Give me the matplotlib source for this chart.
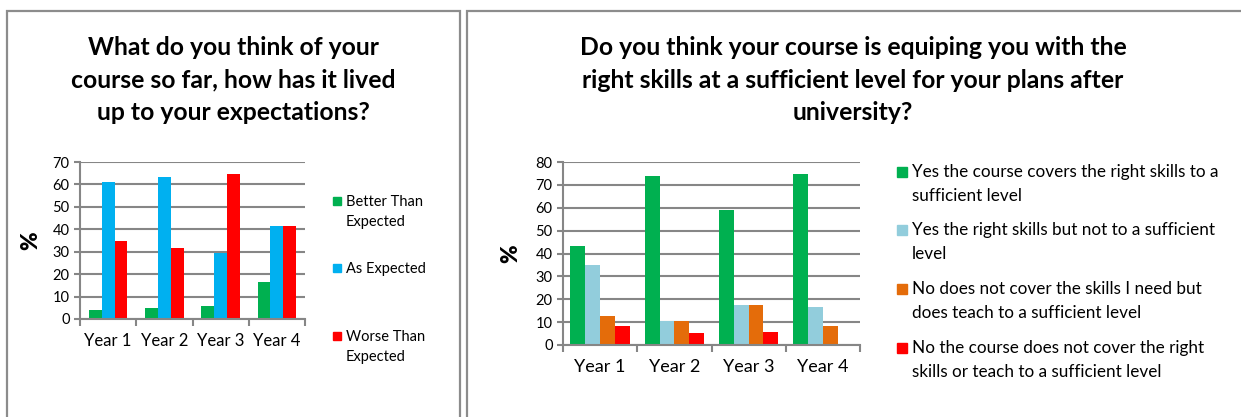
import numpy as np
import matplotlib.pyplot as plt
from matplotlib.patches import Rectangle

plt.rcParams['font.family'] = ['Lato', 'DejaVu Sans']

years = ['Year 1', 'Year 2', 'Year 3', 'Year 4']

# left chart: expectations
exp_labels = ['Better Than\nExpected', 'As Expected', 'Worse Than\nExpected']
better = [4.2, 5.1, 5.9, 16.5]
as_expected = [61.0, 63.2, 29.3, 41.6]
worse = [34.8, 31.7, 64.8, 41.6]
exp_colors = ['#00B050', '#00B0F0', '#FF0000']

# right chart: skills
skill_labels = ['Yes the course covers the right skills to a\nsufficient level',
                'Yes the right skills but not to a sufficient\nlevel',
                'No does not cover the skills I need but\ndoes teach to a sufficient level',
                'No the course does not cover the right\nskills or teach to a sufficient level']
yes_right = [43.3, 73.7, 58.8, 74.9]
yes_not_suff = [34.8, 10.5, 17.5, 16.6]
no_but_teach = [12.8, 10.5, 17.5, 8.3]
no_neither = [8.4, 5.2, 5.8, 0]
skill_colors = ['#00B050', '#92CDDC', '#E46C0A', '#FF0000']

W, H = 1241, 417
fig = plt.figure(figsize=(W / 100, H / 100), dpi=100)

def fx(px):
    return px / W

def fy(py):
    return 1 - py / H

# panel borders
border = '#8c8c8c'
fig.patches.append(Rectangle((fx(7), fy(430)), fx(453), fy(11) - fy(430),
                             transform=fig.transFigure, fill=False,
                             edgecolor=border, lw=1.6))
fig.patches.append(Rectangle((fx(467), fy(430)), fx(800), fy(11) - fy(430),
                             transform=fig.transFigure, fill=False,
                             edgecolor=border, lw=1.6))


def style_axes(ax, ymax, step, ncat):
    ax.set_ylim(0, ymax)
    ax.set_yticks(np.arange(0, ymax + 1, step))
    ax.set_xlim(-0.5, ncat - 0.5)
    ax.yaxis.grid(True, color='#868686', lw=1.5)
    ax.set_axisbelow(True)
    for s in ['top', 'right']:
        ax.spines[s].set_visible(False)
    for s in ['left', 'bottom']:
        ax.spines[s].set_color('#868686')
        ax.spines[s].set_linewidth(1.5)
    ax.set_xticks(np.arange(ncat))
    ax.set_xticklabels(years)
    ax.set_xticks(np.arange(-0.5, ncat), minor=True)
    ax.tick_params(axis='x', which='major', length=0, labelsize=12, pad=10)
    ax.tick_params(axis='x', which='minor', length=5, width=1.5, color='#868686')
    ax.tick_params(axis='y', length=4, width=1.5, color='#868686', labelsize=10.5)


# left chart
ax1 = fig.add_axes([fx(80), fy(319), fx(225), fy(162) - fy(319)])
x = np.arange(len(years))
bw = 0.227
for i, (vals, c) in enumerate(zip([better, as_expected, worse], exp_colors)):
    ax1.bar(x + (i - 1) * bw, vals, bw, color=c)
style_axes(ax1, 70, 10, len(years))
ax1.set_ylabel('%', fontsize=16, fontweight='heavy', labelpad=8)

fig.text(fx(233), fy(80), 'What do you think of your\ncourse so far, how has it lived\nup to your expectations?',
         ha='center', va='center', fontsize=17.8, fontweight='bold', linespacing=1.48)

# left legend
for lab, c, ty in zip(exp_labels, exp_colors, [201, 268, 336]):
    fig.patches.append(Rectangle((fx(333), fy(ty + 4)), fx(8), fy(ty - 4) - fy(ty + 4),
                                 transform=fig.transFigure, color=c))
    fig.text(fx(346), fy(ty - 6), lab, ha='left', va='top', fontsize=10.5,
             linespacing=1.55)

# right chart
ax2 = fig.add_axes([fx(563), fy(345), fx(297), fy(162) - fy(345)])
bw2 = 0.2
for i, (vals, c) in enumerate(zip([yes_right, yes_not_suff, no_but_teach, no_neither], skill_colors)):
    ax2.bar(x + (i - 1.5) * bw2, vals, bw2, color=c)
style_axes(ax2, 80, 10, len(years))
ax2.tick_params(axis='x', which='major', labelsize=13)
ax2.set_ylabel('%', fontsize=16, fontweight='heavy', labelpad=10)

fig.text(fx(853), fy(80), 'Do you think your course is equiping you with the\nright skills at a sufficient level for your plans after\nuniversity?',
         ha='center', va='center', fontsize=17.8, fontweight='bold', linespacing=1.48)

# right legend
for lab, c, ty in zip(skill_labels, skill_colors, [172, 230, 289, 348]):
    fig.patches.append(Rectangle((fx(897), fy(ty + 5)), fx(10), fy(ty - 5) - fy(ty + 5),
                                 transform=fig.transFigure, color=c))
    fig.text(fx(912), fy(ty - 8), lab, ha='left', va='top', fontsize=12.3,
             linespacing=1.6)

fig.savefig('out.png', dpi=100)
